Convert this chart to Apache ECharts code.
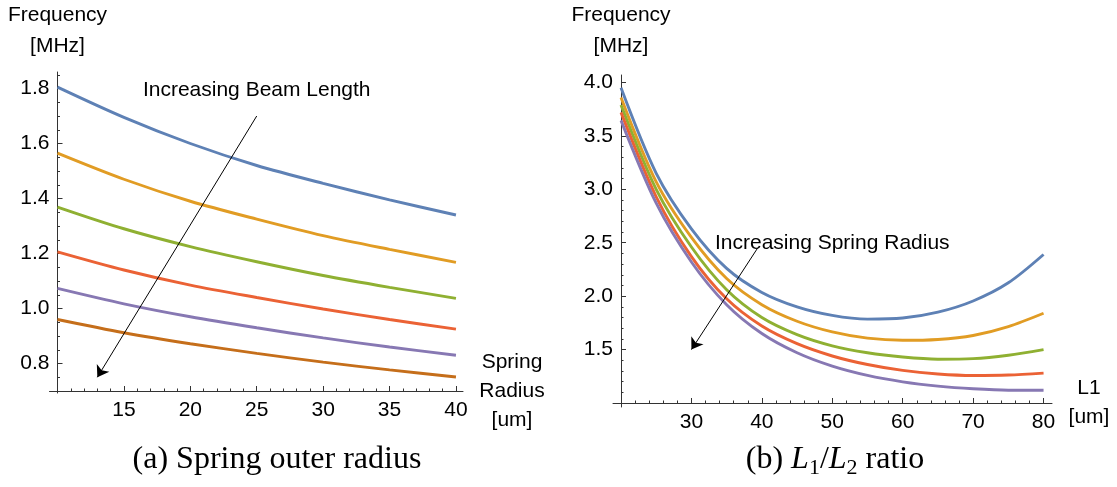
<!DOCTYPE html>
<html>
<head>
<meta charset="utf-8">
<script src="https://cdn.jsdelivr.net/npm/echarts@6/dist/echarts.min.js"></script>
<style>html,body{margin:0;padding:0;background:#fff}#c{width:1117px;height:487px}</style>
</head>
<body>
<div id="c"></div>
<script>
// ---- Data: (a) frequency vs spring radius, one line per beam length ----
const radiusX = [10, 15, 20, 25, 30, 35, 40];
const beam1 = [1.805, 1.695, 1.600, 1.520, 1.455, 1.395, 1.340];
const beam2 = [1.565, 1.470, 1.390, 1.325, 1.265, 1.215, 1.168];
const beam3 = [1.369, 1.290, 1.225, 1.170, 1.120, 1.077, 1.037];
const beam4 = [1.206, 1.140, 1.085, 1.040, 0.998, 0.960, 0.925];
const beam5 = [1.073, 1.017, 0.970, 0.930, 0.893, 0.860, 0.830];
const beam6 = [0.960, 0.912, 0.872, 0.837, 0.805, 0.777, 0.751];

// ---- Data: (b) frequency vs L1, one line per spring radius ----
const l1X = [20, 25, 30, 35, 40, 45, 50, 55, 60, 65, 70, 75, 80];
const spring1 = [3.95, 3.15, 2.63, 2.26, 2.035, 1.90, 1.82, 1.785, 1.795, 1.85, 1.955, 2.125, 2.39];
const spring2 = [3.86, 3.07, 2.55, 2.165, 1.92, 1.765, 1.665, 1.607, 1.587, 1.595, 1.632, 1.715, 1.84];
const spring3 = [3.79, 3.00, 2.46, 2.06, 1.80, 1.64, 1.535, 1.47, 1.43, 1.41, 1.415, 1.447, 1.50];
const spring4 = [3.72, 2.93, 2.37, 1.975, 1.72, 1.555, 1.44, 1.36, 1.305, 1.272, 1.258, 1.262, 1.28];
const spring5 = [3.645, 2.87, 2.32, 1.92, 1.65, 1.47, 1.345, 1.258, 1.198, 1.158, 1.133, 1.12, 1.12];

// ---- Tick labels ----
const leftXTicks = [15, 20, 25, 30, 35, 40];
const leftYTicks = [0.8, 1.0, 1.2, 1.4, 1.6, 1.8];
const rightXTicks = [30, 40, 50, 60, 70, 80];
const rightYTicks = [1.5, 2.0, 2.5, 3.0, 3.5, 4.0];

// ---- Annotations ----
const beamArrow = [[25, 1.70], [13, 0.75]];
const beamText = {x: 25, y: 1.795, text: 'Increasing Beam Length'};
const springArrow = [[39.4, 2.45], [30, 1.50]];
const springText = {x: 50, y: 2.50, text: 'Increasing Spring Radius'};

const colors = ['#5E81B5', '#E19C24', '#8FB032', '#EB6235', '#8778B3', '#C56E1A'];
const SANS = '"Liberation Sans", Arial, Helvetica, sans-serif';
const SERIF = '"Liberation Serif", "Times New Roman", serif';
const AX = '#333';

// minor tick positions (axis decoration)
function minorTicks(from, to, step, skipEvery) {
  const out = [];
  for (let k = Math.round(from / step); k <= Math.round(to / step); k++) {
    if (k % skipEvery !== 0) out.push(Math.round(k * step * 1000) / 1000);
  }
  return out;
}
const leftXMinor = minorTicks(11, 39, 1, 5);
const leftYMinor = minorTicks(0.75, 1.85, 0.05, 4);
const rightXMinor = minorTicks(22, 78, 2, 5);
const rightYMinor = minorTicks(1.1, 4.0, 0.1, 5);

// layout
const L = {left: 57.5, top: 72, width: 405.5, height: 319, xmin: 10, xmax: 40.53, ymin: 0.7, ymax: 1.86, stubL: 8, stubB: 2};
const R = {left: 621, top: 75, width: 431, height: 328, xmin: 20, xmax: 81.2, ymin: 1.0, ymax: 4.07, stubL: 8, stubB: 4};

function grids(P) {
  const pxX = P.width / (P.xmax - P.xmin);
  const pxY = P.height / (P.ymax - P.ymin);
  return {
    main: {left: P.left, top: P.top, width: P.width, height: P.height, containLabel: false, outerBoundsMode: 'none'},
    stub: {left: P.left - P.stubL, top: P.top, width: P.width + P.stubL, height: P.height + P.stubB, containLabel: false, outerBoundsMode: 'none'},
    sxmin: P.xmin - P.stubL / pxX,
    symin: P.ymin - P.stubB / pxY
  };
}
const GL = grids(L), GR = grids(R);

function mainX(gi, P, ticks, name, gap) {
  return {
    type: 'value', gridIndex: gi, min: P.xmin, max: P.xmax,
    axisLine: {show: false}, splitLine: {show: false},
    axisTick: {show: true, inside: true, length: 5, customValues: ticks, lineStyle: {color: AX, width: 1}},
    axisLabel: {show: true, customValues: ticks, margin: 9, color: '#000', fontSize: 21, fontFamily: SANS},
    name: name, nameLocation: 'end', nameGap: gap,
    nameTextStyle: {color: '#000', fontSize: 21, fontFamily: SANS, align: 'center', verticalAlign: 'middle', lineHeight: 29}
  };
}
function mainY(gi, P, ticks, gap) {
  return {
    type: 'value', gridIndex: gi, min: P.ymin, max: P.ymax,
    axisLine: {show: false}, splitLine: {show: false},
    axisTick: {show: true, inside: true, length: 5, customValues: ticks, lineStyle: {color: AX, width: 1}},
    axisLabel: {show: true, customValues: ticks, margin: 8, color: '#000', fontSize: 21, fontFamily: SANS,
      formatter: v => Number(v).toFixed(1)},
    name: 'Frequency\n[MHz]', nameLocation: 'end', nameGap: gap,
    nameTextStyle: {color: '#000', fontSize: 21, fontFamily: SANS, align: 'center', verticalAlign: 'bottom', lineHeight: 31}
  };
}
function stubX(gi, P, G, minor) {
  return {
    type: 'value', gridIndex: gi, min: G.sxmin, max: P.xmax, offset: -P.stubB,
    axisLine: {show: true, onZero: false, lineStyle: {color: AX, width: 1}}, splitLine: {show: false},
    axisTick: {show: true, inside: true, length: 2.5, customValues: minor, lineStyle: {color: AX, width: 1}},
    axisLabel: {show: false}
  };
}
function stubY(gi, P, G, minor) {
  return {
    type: 'value', gridIndex: gi, min: G.symin, max: P.ymax, offset: -P.stubL,
    axisLine: {show: true, onZero: false, lineStyle: {color: AX, width: 1}}, splitLine: {show: false},
    axisTick: {show: true, inside: true, length: 2.5, customValues: minor, lineStyle: {color: AX, width: 1}},
    axisLabel: {show: false}
  };
}

function lineSeries(xs, ys, color, axisIdx) {
  return {
    type: 'line', xAxisIndex: axisIdx, yAxisIndex: axisIdx,
    data: xs.map((x, i) => [x, ys[i]]),
    smooth: 0.3, showSymbol: false, symbol: 'none',
    lineStyle: {color: color, width: 2.9}, itemStyle: {color: color},
    silent: true, z: 3
  };
}

function annotation(arrow, txt, axisIdx) {
  return {
    type: 'line', xAxisIndex: axisIdx, yAxisIndex: axisIdx, data: [], silent: true, z: 5,
    markLine: {
      silent: true, symbol: ['none', 'arrow'], symbolSize: 11, animation: false,
      label: {show: false},
      lineStyle: {color: '#000', width: 1, type: 'solid'},
      emphasis: {disabled: true},
      data: [[{coord: arrow[0]}, {coord: arrow[1]}]]
    },
    markPoint: {
      silent: true, animation: false, symbol: 'circle', symbolSize: 0,
      itemStyle: {color: 'rgba(0,0,0,0)'},
      label: {show: true, position: 'inside', color: '#000', fontSize: 21, fontFamily: SANS, formatter: txt.text},
      data: [{coord: [txt.x, txt.y]}]
    }
  };
}

const beams = [beam1, beam2, beam3, beam4, beam5, beam6];
const springs = [spring1, spring2, spring3, spring4, spring5];

const series = [];
beams.forEach((b, i) => series.push(lineSeries(radiusX, b, colors[i], 0)));
springs.forEach((s, i) => series.push(lineSeries(l1X, s, colors[i], 2)));
series.push(annotation(beamArrow, beamText, 0));
series.push(annotation(springArrow, springText, 2));

const option = {
  animation: false,
  backgroundColor: '#fff',
  grid: [GL.main, GL.stub, GR.main, GR.stub],
  xAxis: [
    mainX(0, L, leftXTicks, 'Spring\nRadius\n[um]', 49),
    stubX(1, L, GL, leftXMinor),
    mainX(2, R, rightXTicks, 'L1\n[um]', 37),
    stubX(3, R, GR, rightXMinor)
  ],
  yAxis: [
    mainY(0, L, leftYTicks, 10),
    stubY(1, L, GL, leftYMinor),
    mainY(2, R, rightYTicks, 13),
    stubY(3, R, GR, rightYMinor)
  ],
  series: series,
  graphic: [
    {type: 'text', x: 277, y: 460, silent: true,
      style: {text: '(a) Spring outer radius', fontSize: 32, fontFamily: SERIF, fill: '#000', align: 'center', verticalAlign: 'middle'}},
    {type: 'text', x: 835, y: 460, silent: true,
      style: {
        text: '{n|(b) }{i|L}{s|1}{n|/}{i|L}{s|2}{n| ratio}',
        align: 'center', verticalAlign: 'middle', fill: '#000',
        rich: {
          n: {fontSize: 32, fontFamily: SERIF, color: '#000', lineHeight: 38, verticalAlign: 'middle'},
          i: {fontSize: 32, fontFamily: SERIF, fontStyle: 'italic', color: '#000', lineHeight: 38, verticalAlign: 'middle'},
          s: {fontSize: 22, fontFamily: SERIF, color: '#000', lineHeight: 38, verticalAlign: 'bottom'}
        }
      }}
  ]
};

const chart = echarts.init(document.getElementById('c'), null, {renderer: 'canvas'});
chart.setOption(option);
</script>
</body>
</html>
